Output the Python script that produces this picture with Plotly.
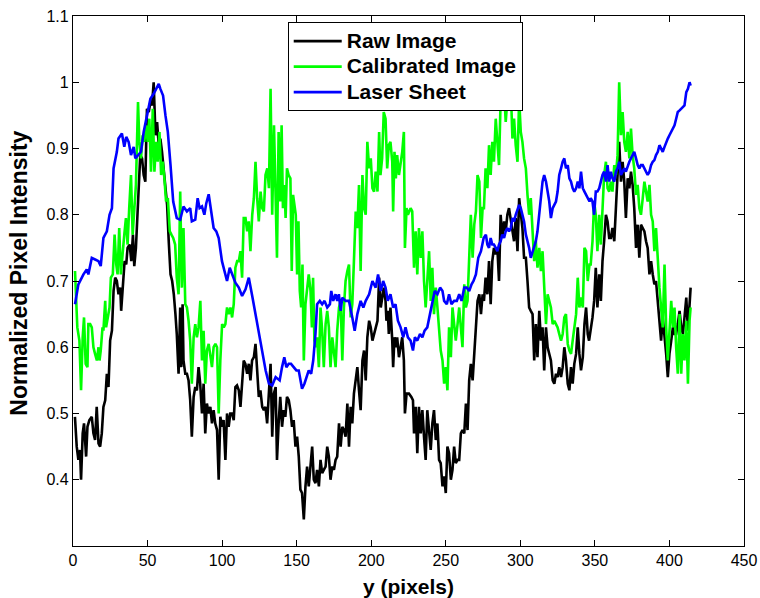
import plotly.graph_objects as go

# ---- data (x in pixels, y normalized intensity) ----
raw_points = [
    (1.3,0.495),(2.5,0.45),(3.6,0.43),(4.7,0.445),(5.4,0.40),(6.5,0.47),(7.4,0.485),(8.8,0.435),(9.7,0.48),(11.0,0.49),
    (12.6,0.495),(13.7,0.47),(14.8,0.46),(15.9,0.51),(17.1,0.455),(18.2,0.45),(19.3,0.47),(20.4,0.51),(21.6,0.52),(22.7,0.56),
    (23.8,0.54),(24.9,0.61),(26.1,0.625),(27.2,0.685),(28.3,0.705),(29.4,0.70),(30.5,0.68),(31.7,0.69),(32.3,0.655),(33.5,0.705),
    (34.6,0.73),(35.7,0.725),(36.6,0.75),(38.0,0.755),(39.1,0.73),(40.2,0.77),(41.1,0.7225),(42.2,0.75),(43.6,0.83),(45.1,0.89),
    (46.3,0.885),(47.4,0.86),(48.5,0.85),(49.6,0.96),(50.8,0.955),(51.9,0.97),(53.0,0.965),(54.1,1.0),(55.3,0.92),(56.4,0.94),
    (57.5,0.905),(58.6,0.915),(59.7,0.895),(60.9,0.865),(62.0,0.845),(63.1,0.815),(64.2,0.76),(65.4,0.71),(66.5,0.70),(67.6,0.68),
    (68.7,0.65),(69.6,0.62),(70.8,0.56),(71.9,0.66),(72.6,0.57),(73.5,0.665),(74.1,0.58),(75.3,0.56),(76.4,0.56),(77.5,0.55),
    (78.6,0.52),(79.7,0.465),(80.9,0.525),(82.0,0.54),(83.1,0.535),(84.2,0.57),(85.3,0.545),(86.5,0.50),(87.6,0.545),(88.7,0.47),
    (89.8,0.515),(91.0,0.50),(92.1,0.51),(93.2,0.485),(94.3,0.505),(95.4,0.485),(96.6,0.475),(97.7,0.40),(98.8,0.495),(99.9,0.48),
    (101.0,0.49),(102.2,0.43),(103.3,0.50),(104.4,0.48),(105.5,0.50),(106.7,0.50),(107.8,0.49),(108.9,0.54),(110.0,0.5425),(111.2,0.535),
    (112.3,0.51),(113.4,0.55),(114.5,0.58),(115.6,0.575),(116.8,0.56),(117.9,0.575),(119.0,0.55),(120.1,0.58),(121.3,0.585),(122.4,0.605),
    (123.5,0.57),(124.6,0.525),(125.7,0.535),(126.9,0.51),(128.0,0.505),(129.1,0.51),(130.2,0.485),(131.4,0.53),(132.5,0.575),(133.6,0.465),
    (134.7,0.53),(135.9,0.54),(136.8,0.43),(137.9,0.485),(139.0,0.525),(140.2,0.48),(141.3,0.505),(142.4,0.495),(143.5,0.525),(144.7,0.52),
    (145.8,0.505),(146.9,0.48),(148.0,0.49),(149.2,0.45),(150.3,0.465),(151.4,0.435),(152.5,0.385),(153.6,0.38),(154.8,0.34),(155.9,0.39),
    (157.0,0.42),(158.1,0.39),(159.3,0.42),(160.4,0.45),(161.5,0.40),(162.6,0.395),(163.7,0.415),(164.9,0.39),(166.0,0.43),(167.1,0.41),
    (168.2,0.415),(169.4,0.42),(170.5,0.45),(171.6,0.435),(172.7,0.40),(173.9,0.42),(175.0,0.415),(176.1,0.43),(177.2,0.435),(178.4,0.485),
    (179.5,0.45),(180.6,0.48),(181.7,0.475),(182.8,0.465),(184.0,0.515),(185.1,0.45),(186.2,0.51),(187.3,0.485),(188.4,0.53),(189.6,0.55),
    (190.7,0.57),(191.8,0.535),(192.9,0.505),(194.1,0.58),(195.2,0.595),(196.3,0.55),(197.4,0.615),(198.6,0.64),(199.7,0.63),(200.8,0.61),
    (201.9,0.62),(203.1,0.63),(204.2,0.64),(205.3,0.705),(206.4,0.66),(208.4,0.69),(209.6,0.67),(210.2,0.64),(211.1,0.655),(211.8,0.62),
    (212.9,0.66),(214.1,0.61),(214.7,0.57),(215.6,0.615),(216.8,0.60),(217.4,0.615),(218.6,0.585),(219.7,0.60),(220.8,0.615),(221.9,0.58),
    (222.6,0.50),(223.7,0.53),(225.3,0.53),(226.9,0.525),(228.0,0.52),(228.7,0.47),(229.8,0.51),(230.9,0.44),(232.0,0.51),(233.2,0.47),
    (234.3,0.505),(235.4,0.465),(236.5,0.43),(237.6,0.505),(238.8,0.475),(239.9,0.445),(241.0,0.485),(242.1,0.505),(243.3,0.46),(244.4,0.485),
    (245.5,0.43),(246.6,0.425),(247.8,0.39),(248.9,0.405),(250.0,0.38),(251.1,0.45),(252.2,0.44),(253.4,0.40),(254.5,0.415),(255.6,0.45),
    (256.7,0.425),(257.9,0.43),(259.0,0.43),(260.1,0.47),(261.2,0.475),(262.4,0.47),(263.5,0.515),(264.6,0.475),(265.7,0.55),(266.8,0.575),
    (268.0,0.55),(269.1,0.595),(270.2,0.63),(271.3,0.67),(272.5,0.68),(273.6,0.65),(274.7,0.68),(275.6,0.67),(276.7,0.705),(277.9,0.68),
    (279.0,0.73),(280.1,0.665),(281.2,0.73),(282.3,0.75),(283.5,0.74),(284.6,0.75),(285.7,0.70),(286.8,0.80),(287.9,0.765),(289.1,0.79),
    (290.2,0.775),(291.3,0.80),(292.4,0.81),(293.6,0.79),(294.7,0.77),(295.8,0.76),(296.9,0.795),(298.1,0.745),(299.2,0.825),(300.3,0.80),
    (301.4,0.78),(302.5,0.735),(303.7,0.735),(304.8,0.70),(305.9,0.66),(307.0,0.655),(308.2,0.65),(309.3,0.58),(310.4,0.635),(311.5,0.585),
    (312.7,0.655),(313.8,0.61),(314.9,0.63),(316.0,0.565),(317.2,0.63),(318.3,0.60),(319.4,0.59),(320.5,0.58),(321.7,0.55),(322.8,0.545),
    (323.9,0.56),(325.0,0.555),(326.1,0.57),(327.3,0.555),(328.4,0.57),(329.5,0.60),(330.6,0.58),(331.8,0.545),(332.9,0.535),(334.0,0.57),
    (335.1,0.545),(336.2,0.575),(337.4,0.59),(338.5,0.63),(339.6,0.59),(340.7,0.565),(341.9,0.585),(343.0,0.635),(344.1,0.66),(345.2,0.62),
    (346.1,0.61),(347.2,0.625),(348.4,0.645),(349.5,0.67),(350.6,0.72),(351.7,0.66),(352.9,0.71),(354.0,0.67),(355.1,0.73),(356.2,0.76),
    (357.4,0.80),(358.5,0.79),(359.6,0.765),(360.7,0.765),(361.8,0.78),(363.0,0.76),(364.1,0.81),(365.2,0.86),(366.3,0.91),(367.5,0.85),
    (368.6,0.88),(369.7,0.85),(370.8,0.795),(372.0,0.855),(373.1,0.84),(374.2,0.865),(375.3,0.845),(376.4,0.81),(377.6,0.75),(378.7,0.785),
    (379.8,0.735),(380.9,0.785),(382.1,0.78),(383.2,0.775),(384.3,0.76),(385.4,0.75),(386.6,0.71),(387.7,0.73),(388.8,0.71),(389.9,0.695),
    (391.0,0.70),(392.2,0.67),(393.3,0.635),(394.4,0.61),(395.5,0.645),(396.7,0.62),(397.8,0.59),(398.9,0.555),(400.0,0.59),(401.2,0.61),
    (402.3,0.63),(403.4,0.62),(404.5,0.62),(405.6,0.635),(406.8,0.655),(407.9,0.63),(409.0,0.62),(410.1,0.645),(411.3,0.675),(412.4,0.625),
    (413.5,0.66),(414.2,0.69),
]

calibrated_points = [
    (1.35,0.715),(2.0,0.67),(2.9,0.63),(4.3,0.61),(5.4,0.535),(6.5,0.615),(7.4,0.645),(8.5,0.575),(9.7,0.57),(10.3,0.635),
    (11.5,0.635),(12.6,0.63),(13.7,0.60),(14.8,0.59),(16.0,0.58),(17.1,0.60),(17.8,0.58),(18.6,0.595),(19.8,0.63),(20.4,0.625),
    (21.6,0.67),(22.2,0.63),(23.1,0.64),(24.5,0.66),(25.4,0.705),(26.7,0.71),(27.9,0.77),(29.0,0.725),(29.9,0.71),(31.0,0.78),
    (32.1,0.71),(33.2,0.745),(34.4,0.77),(35.5,0.795),(36.6,0.755),(37.7,0.81),(38.9,0.86),(40.0,0.77),(41.1,0.81),(42.2,0.845),
    (43.6,0.97),(44.5,0.91),(45.6,0.885),(46.7,0.92),(47.8,0.91),(49.0,0.935),(50.1,0.91),(51.2,0.945),(52.3,0.865),(53.5,0.96),
    (54.6,0.865),(55.7,0.91),(56.8,0.88),(58.0,0.925),(59.1,0.86),(60.2,0.88),(61.3,0.855),(62.4,0.82),(63.6,0.825),(64.9,0.775),
    (66.0,0.77),(67.2,0.765),(68.5,0.755),(69.6,0.705),(70.8,0.68),(71.9,0.835),(73.0,0.69),(74.1,0.78),(75.3,0.665),(76.4,0.66),
    (77.5,0.64),(78.6,0.61),(79.7,0.545),(80.9,0.615),(82.0,0.635),(83.1,0.615),(84.2,0.63),(85.4,0.67),(86.5,0.58),(87.6,0.625),
    (88.7,0.545),(89.8,0.595),(91.0,0.605),(92.1,0.585),(93.2,0.57),(94.3,0.60),(95.5,0.605),(96.6,0.60),(97.7,0.50),(98.8,0.58),
    (100.0,0.635),(101.1,0.63),(102.2,0.635),(103.3,0.66),(104.4,0.65),(105.6,0.66),(106.7,0.645),(107.8,0.665),(108.9,0.72),(110.1,0.73),
    (111.2,0.73),(112.3,0.745),(113.4,0.705),(114.5,0.795),(115.7,0.795),(116.8,0.775),(117.9,0.79),(119.0,0.745),(120.2,0.80),(121.3,0.825),
    (122.4,0.88),(123.5,0.825),(124.6,0.79),(125.8,0.835),(126.9,0.81),(128.0,0.805),(129.1,0.86),(130.3,0.87),(131.4,0.84),(132.5,0.99),
    (133.6,0.80),(134.8,0.935),(135.9,0.835),(136.8,0.735),(137.9,0.925),(139.0,0.82),(139.9,0.935),(140.8,0.81),(141.7,0.845),(142.6,0.795),
    (143.5,0.87),(144.6,0.86),(145.8,0.855),(146.7,0.715),(147.6,0.83),(148.5,0.81),(149.4,0.80),(150.3,0.71),(151.2,0.79),(152.1,0.685),
    (153.0,0.66),(153.9,0.725),(154.8,0.58),(155.9,0.665),(157.0,0.685),(158.1,0.71),(159.3,0.685),(160.2,0.63),(161.0,0.705),(161.9,0.61),
    (162.8,0.60),(163.7,0.615),(164.9,0.57),(166.0,0.66),(167.1,0.625),(168.2,0.57),(169.4,0.635),(170.5,0.655),(171.6,0.63),(172.7,0.57),
    (173.9,0.615),(175.0,0.59),(176.1,0.57),(177.2,0.625),(178.4,0.66),(179.5,0.67),(180.6,0.58),(181.7,0.66),(182.8,0.70),(184.0,0.715),
    (185.1,0.725),(186.2,0.645),(187.3,0.665),(188.4,0.73),(189.6,0.805),(190.7,0.78),(191.8,0.845),(192.9,0.715),(194.1,0.86),(195.2,0.81),
    (196.3,0.80),(197.4,0.91),(198.6,0.87),(199.7,0.885),(200.8,0.84),(201.9,0.835),(203.0,0.865),(204.2,0.835),(205.3,0.925),(206.2,0.86),
    (207.3,0.885),(208.4,0.955),(209.6,0.945),(210.7,0.87),(211.8,0.905),(212.9,0.91),(214.1,0.88),(214.7,0.805),(215.6,0.895),(216.5,0.855),
    (217.4,0.89),(218.6,0.86),(219.7,0.88),(220.8,0.895),(221.9,0.925),(222.6,0.75),(223.7,0.81),(224.6,0.80),(225.5,0.805),(226.4,0.81),
    (227.5,0.805),(228.7,0.72),(229.8,0.775),(230.9,0.71),(232.0,0.78),(233.2,0.735),(234.3,0.775),(235.4,0.70),(236.5,0.66),(237.6,0.71),
    (238.8,0.745),(239.9,0.67),(241.0,0.72),(242.1,0.65),(243.3,0.69),(244.4,0.66),(245.5,0.62),(246.6,0.595),(247.8,0.58),(248.9,0.545),
    (250.0,0.57),(251.1,0.535),(252.2,0.63),(253.4,0.585),(254.5,0.66),(255.6,0.635),(256.7,0.61),(257.9,0.635),(259.0,0.66),(260.1,0.63),
    (261.2,0.60),(262.4,0.695),(263.5,0.66),(264.6,0.67),(265.7,0.75),(266.8,0.80),(268.0,0.735),(269.1,0.785),(270.2,0.805),(271.3,0.86),
    (272.5,0.85),(273.6,0.765),(274.7,0.81),(275.6,0.81),(276.7,0.87),(277.9,0.84),(279.0,0.905),(280.1,0.86),(281.2,0.91),(282.3,0.88),
    (283.5,0.945),(284.6,0.91),(285.7,0.875),(286.8,0.975),(287.9,0.96),(289.1,0.99),(290.2,0.94),(291.3,0.975),(292.4,0.96),(293.6,0.99),
    (294.7,0.915),(295.8,0.945),(296.9,0.905),(298.1,0.88),(299.2,0.975),(300.3,0.925),(301.4,0.91),(302.5,0.885),(303.7,0.87),(304.8,0.83),
    (305.9,0.80),(307.0,0.825),(308.2,0.78),(309.3,0.73),(310.4,0.76),(311.5,0.72),(312.7,0.75),(313.8,0.715),(314.9,0.745),(316.0,0.69),
    (317.2,0.635),(318.3,0.68),(319.4,0.67),(320.5,0.66),(321.7,0.635),(322.8,0.64),(323.9,0.635),(325.0,0.63),(326.1,0.62),(327.3,0.61),
    (328.4,0.62),(329.5,0.645),(330.6,0.65),(331.8,0.605),(332.9,0.595),(334.0,0.59),(335.1,0.61),(336.2,0.63),(337.4,0.65),(338.5,0.705),
    (339.6,0.66),(340.7,0.675),(341.9,0.66),(343.0,0.75),(344.1,0.745),(345.2,0.70),(346.4,0.725),(347.2,0.725),(348.4,0.76),(349.5,0.82),
    (350.6,0.80),(351.7,0.745),(352.9,0.80),(354.0,0.755),(355.1,0.82),(356.2,0.86),(357.4,0.88),(358.5,0.84),(359.6,0.835),(360.7,0.85),
    (361.8,0.835),(363.0,0.875),(364.1,0.86),(365.2,0.89),(366.3,1.0),(367.5,0.92),(368.6,0.955),(369.7,0.91),(370.8,0.895),(372.0,0.925),
    (373.1,0.885),(374.2,0.93),(375.3,0.89),(376.4,0.87),(377.6,0.83),(378.7,0.845),(379.8,0.81),(380.9,0.80),(382.1,0.825),(383.2,0.85),
    (384.3,0.835),(385.4,0.82),(386.6,0.845),(387.7,0.80),(388.8,0.79),(389.9,0.745),(391.0,0.78),(392.2,0.725),(393.3,0.69),(394.4,0.66),
    (395.5,0.63),(396.7,0.725),(397.8,0.63),(398.9,0.58),(400.0,0.62),(401.2,0.67),(402.3,0.63),(403.4,0.66),(404.5,0.60),(405.6,0.56),
    (406.8,0.65),(407.9,0.56),(409.0,0.62),(410.1,0.58),(411.3,0.64),(412.4,0.545),(413.5,0.64),(414.2,0.66),
]

laser_points = [
    (1.35,0.665),(3.6,0.695),(7.0,0.71),(9.2,0.7175),(10.3,0.71),(12.6,0.735),(14.8,0.7325),(17.1,0.73),(18.6,0.7225),(20.4,0.765),
    (22.7,0.775),(24.5,0.80),(26.1,0.81),(27.2,0.87),(29.4,0.895),(30.5,0.915),(32.8,0.9225),(34.4,0.9025),(35.7,0.9175),(37.3,0.91),
    (38.9,0.89),(40.7,0.9025),(41.8,0.885),(44.0,0.89),(45.6,0.895),(47.4,0.925),(49.6,0.95),(51.9,0.975),(54.1,0.9825),(55.9,0.99),
    (57.5,0.9975),(58.6,0.99),(60.4,0.98),(62.0,0.95),(63.6,0.925),(65.4,0.875),(67.2,0.82),(69.6,0.795),(71.9,0.7925),(74.1,0.8125),
    (76.4,0.805),(78.6,0.81),(79.7,0.79),(82.0,0.7925),(83.6,0.825),(84.9,0.81),(86.5,0.8125),(88.1,0.80),(89.4,0.8175),(91.0,0.831),
    (92.5,0.805),(94.3,0.78),(96.1,0.775),(97.7,0.765),(99.9,0.73),(101.5,0.715),(103.3,0.70),(105.1,0.72),(106.7,0.71),(108.9,0.6975),
    (111.2,0.69),(113.4,0.6775),(115.7,0.6875),(117.9,0.705),(120.2,0.6775),(122.4,0.65),(124.7,0.625),(126.9,0.595),(129.2,0.565),(131.4,0.545),
    (133.6,0.5425),(135.9,0.555),(138.6,0.55),(140.2,0.57),(141.7,0.585),(143.1,0.57),(144.7,0.575),(146.2,0.575),(148.0,0.57),(149.8,0.565),
    (151.4,0.565),(152.5,0.55),(153.6,0.5375),(155.2,0.545),(157.0,0.56),(158.1,0.565),(159.7,0.56),(161.1,0.58),(162.6,0.62),(163.7,0.665),
    (165.5,0.67),(167.1,0.665),(168.7,0.67),(170.5,0.66),(172.3,0.665),(173.2,0.685),(174.5,0.67),(176.1,0.68),(177.2,0.67),(178.3,0.68),
    (179.5,0.655),(180.6,0.675),(182.8,0.67),(185.1,0.67),(187.3,0.645),(188.9,0.625),(190.7,0.65),(192.9,0.67),(194.7,0.66),(196.3,0.67),
    (198.6,0.68),(200.8,0.70),(203.0,0.69),(204.6,0.71),(206.4,0.685),(208.0,0.70),(209.6,0.69),(211.1,0.67),(212.9,0.68),(214.7,0.66),
    (216.3,0.665),(217.9,0.64),(219.7,0.63),(221.5,0.615),(223.0,0.63),(224.6,0.615),(226.4,0.61),(228.0,0.595),(229.3,0.615),(230.9,0.61),
    (232.7,0.62),(234.3,0.615),(235.8,0.625),(237.6,0.63),(239.4,0.65),(241.0,0.67),(242.6,0.685),(244.4,0.68),(246.2,0.69),(247.8,0.685),
    (248.9,0.67),(250.7,0.665),(252.2,0.68),(253.8,0.665),(255.6,0.67),(257.4,0.67),(259.0,0.68),(260.6,0.67),(262.4,0.69),(264.1,0.69),
    (265.7,0.685),(267.3,0.695),(268.6,0.70),(270.2,0.71),(271.8,0.735),(273.6,0.745),(275.4,0.765),(276.9,0.77),(277.9,0.755),(279.0,0.75),
    (280.1,0.765),(281.2,0.755),(282.3,0.755),(283.5,0.75),(284.6,0.745),(285.7,0.755),(286.8,0.76),(287.9,0.77),(289.1,0.765),(290.2,0.775),
    (291.3,0.78),(292.4,0.775),(293.6,0.78),(294.7,0.795),(295.8,0.79),(296.9,0.80),(298.1,0.81),(299.2,0.815),(300.3,0.81),(301.4,0.80),
    (302.5,0.79),(303.7,0.77),(304.8,0.76),(305.9,0.75),(307.0,0.735),(308.2,0.745),(309.3,0.755),(310.4,0.76),(311.5,0.775),(312.7,0.80),
    (313.8,0.83),(314.9,0.85),(316.0,0.86),(317.2,0.85),(318.3,0.835),(319.4,0.82),(320.5,0.795),(321.7,0.81),(322.8,0.815),(323.9,0.82),
    (325.0,0.835),(326.1,0.86),(327.3,0.87),(328.4,0.88),(329.5,0.885),(330.6,0.87),(331.8,0.875),(332.9,0.855),(334.0,0.85),(335.1,0.84),
    (336.2,0.835),(337.4,0.84),(338.5,0.85),(339.6,0.84),(340.7,0.865),(341.9,0.84),(343.0,0.835),(344.1,0.83),(345.2,0.825),(346.4,0.82),
    (347.2,0.825),(348.4,0.82),(349.5,0.80),(350.6,0.835),(351.7,0.835),(352.9,0.84),(354.0,0.85),(355.1,0.86),(356.2,0.865),(357.4,0.85),
    (358.5,0.875),(359.6,0.85),(360.7,0.865),(361.8,0.855),(363.0,0.85),(364.1,0.865),(365.2,0.87),(366.3,0.88),(367.5,0.86),(368.6,0.865),
    (369.7,0.87),(370.8,0.865),(372.0,0.875),(373.1,0.88),(374.2,0.885),(375.3,0.89),(376.4,0.895),(377.6,0.885),(378.7,0.875),(379.8,0.87),
    (380.9,0.875),(382.1,0.875),(383.2,0.87),(384.3,0.865),(385.4,0.86),(386.6,0.865),(387.7,0.875),(388.8,0.88),(389.9,0.8825),(391.0,0.89),
    (392.2,0.895),(393.3,0.905),(394.4,0.90),(395.5,0.895),(396.7,0.9025),(397.8,0.91),(398.9,0.915),(400.0,0.92),(401.2,0.925),(402.3,0.93),
    (403.4,0.935),(404.5,0.945),(405.6,0.955),(406.8,0.9575),(407.9,0.96),(409.0,0.9625),(410.1,0.965),(411.3,0.985),(412.4,0.99),(413.5,1.0),
    (414.2,0.995),
]

series_names = ["Raw Image", "Calibrated Image", "Laser Sheet"]
series_colors = ["#000000", "#00FF00", "#0000FF"]
x_ticks = [0, 50, 100, 150, 200, 250, 300, 350, 400, 450]
y_ticks = [0.4, 0.5, 0.6, 0.7, 0.8, 0.9, 1.0, 1.1]
y_tick_text = ["0.4", "0.5", "0.6", "0.7", "0.8", "0.9", "1", "1.1"]

fig = go.Figure()
for name, color, pts in zip(series_names, series_colors,
                            [raw_points, calibrated_points, laser_points]):
    fig.add_trace(go.Scatter(
        x=[p[0] for p in pts], y=[p[1] for p in pts], mode="lines",
        name='<span style="font-size:21px"><b>' + name + "</b></span>",
        line=dict(color=color, width=2.6), hoverinfo="skip"))

FONT = "Liberation Sans, Arial, Helvetica, sans-serif"
axis_common = dict(
    showline=True, linecolor="black", linewidth=1.3, mirror="ticks",
    ticks="inside", ticklen=6, tickwidth=1, tickcolor="black",
    showgrid=False, zeroline=False, automargin=False,
    tickfont=dict(family=FONT, size=16, color="black"),
)

fig.update_layout(
    width=760, height=598,
    margin=dict(l=73, r=16, t=16, b=52, autoexpand=False),
    paper_bgcolor="white", plot_bgcolor="white",
    xaxis=dict(range=[0, 450], tickvals=x_ticks, **axis_common),
    yaxis=dict(range=[0.3, 1.1], tickvals=y_ticks, ticktext=y_tick_text, **axis_common),
    showlegend=True,
    legend=dict(
        x=0.320, y=0.988, xanchor="left", yanchor="top",
        bgcolor="white", bordercolor="black", borderwidth=1,
        font=dict(family=FONT, size=17.3, color="black"),
        tracegroupgap=0, itemwidth=48,
    ),
    annotations=[
        dict(text="<b>y (pixels)</b>", xref="paper", yref="paper", x=0.5, y=-0.077,
             xanchor="center", yanchor="middle", showarrow=False,
             font=dict(family=FONT, size=21, color="black")),
        dict(text="<b>Normalized Pixel Intensity</b>", xref="paper", yref="paper",
             x=-0.081, y=0.515, xanchor="center", yanchor="middle", textangle=-90,
             showarrow=False, font=dict(family=FONT, size=23, color="black")),
    ],
)

fig.write_html("out.html")
